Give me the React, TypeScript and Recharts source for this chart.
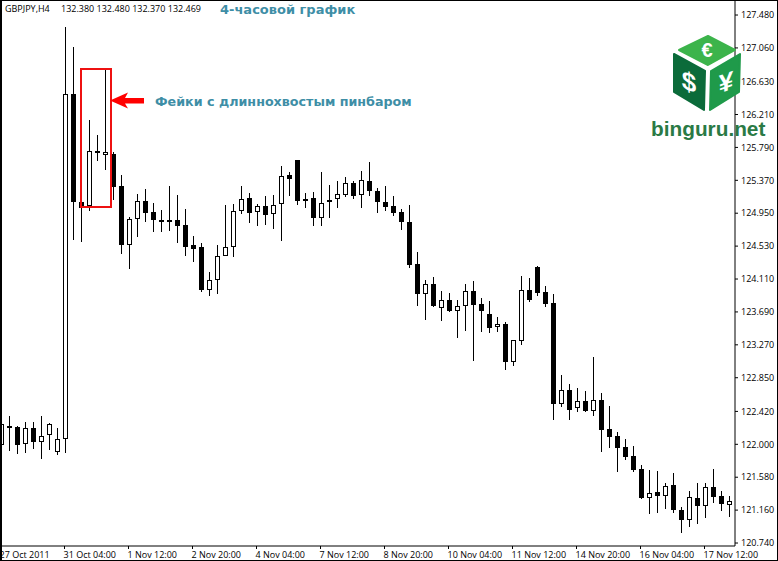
import React from "react";
import { Bar, ComposedChart, XAxis, YAxis } from "recharts";

const SANS = "'Liberation Sans', sans-serif";
const LABEL_FONT = "'Open Sans', sans-serif";

const opens = [
  121.992, 122.234, 122.221, 122.0, 122.205, 122.034, 122.115, 121.906, 122.064, 126.468, 125.093, 125.042,
  125.744, 125.689, 125.706, 125.297, 124.548, 124.872, 125.102, 124.961, 124.863, 124.863, 124.863, 124.799,
  124.54, 124.518, 123.973, 124.093, 124.4, 124.515, 124.974, 125.14, 124.961, 125.038, 124.936, 125.064,
  125.438, 125.629, 125.102, 125.14, 124.893, 125.089, 125.127, 125.178, 125.332, 125.178, 125.357, 125.23,
  125.089, 125.042, 124.961, 124.834, 124.298, 123.923, 124.042, 123.744, 123.838, 123.705, 123.762, 123.953,
  123.787, 123.66, 123.501, 123.532, 123.054, 123.322, 123.966, 124.259, 123.94, 123.8, 122.518, 122.689,
  122.46, 122.549, 122.429, 122.562, 122.191, 122.102, 121.962, 121.847, 121.681, 121.318, 121.387, 121.336,
  121.477, 121.157, 121.03, 121.31, 121.216, 121.451, 121.336, 121.229,
];
const highs = [
  122.515, 122.362, 122.234, 122.285, 122.285, 122.362, 122.269, 122.209, 127.323, 127.072, 125.118, 126.14,
  125.948, 126.791, 125.727, 125.438, 124.902, 125.195, 125.259, 125.08, 124.991, 125.297, 125.182, 125.004,
  124.655, 124.57, 124.199, 124.544, 125.055, 125.067, 125.297, 125.208, 125.067, 125.17, 125.182, 125.553,
  125.476, 125.629, 125.208, 125.221, 125.476, 125.31, 125.361, 125.412, 125.357, 125.489, 125.604, 125.268,
  125.297, 125.17, 124.999, 125.055, 124.455, 124.093, 124.136, 123.957, 123.931, 123.842, 124.046, 124.084,
  123.867, 123.829, 123.625, 123.561, 123.335, 124.148, 124.123, 124.276, 124.021, 123.919, 122.884, 122.766,
  122.715, 122.676, 123.11, 122.651, 122.489, 122.153, 122.064, 121.974, 121.736, 121.672, 121.659, 121.502,
  121.63, 121.196, 121.4, 121.502, 121.502, 121.681, 121.4, 121.336,
];
const lows = [
  121.979, 121.915, 121.877, 121.887, 121.944, 121.817, 121.927, 121.864, 121.887, 124.611, 124.586, 124.982,
  125.62, 125.501, 125.118, 124.433, 124.241, 124.65, 124.841, 124.714, 124.714, 124.727, 124.573, 124.407,
  124.331, 123.948, 123.897, 123.922, 124.4, 124.395, 124.944, 124.829, 124.79, 124.803, 124.752, 124.599,
  125.173, 125.059, 125.02, 124.79, 124.79, 124.893, 125.02, 125.161, 125.131, 125.02, 125.173, 124.956,
  124.982, 124.918, 124.739, 124.254, 123.769, 123.587, 123.756, 123.578, 123.689, 123.361, 123.45, 123.067,
  123.437, 123.425, 123.437, 122.952, 123.003, 123.268, 123.82, 123.897, 123.756, 122.314, 122.48, 122.314,
  122.416, 122.416, 122.365, 121.906, 121.957, 121.65, 121.803, 121.65, 121.306, 121.114, 121.127, 121.178,
  121.127, 120.871, 120.948, 120.986, 121.063, 121.254, 121.152, 121.076,
];
const closes = [
  122.256, 122.209, 121.995, 122.205, 122.034, 122.103, 122.256, 122.064, 126.468, 125.096, 125.012, 125.74,
  125.725, 125.727, 125.288, 124.548, 124.872, 125.102, 124.956, 124.867, 124.844, 124.844, 124.79, 124.522,
  124.497, 123.973, 124.093, 124.4, 124.515, 124.974, 125.127, 124.956, 125.038, 124.931, 125.051, 125.421,
  125.39, 125.109, 125.127, 124.893, 125.076, 125.115, 125.191, 125.332, 125.173, 125.37, 125.237, 125.097,
  125.033, 124.956, 124.841, 124.293, 123.923, 124.042, 123.769, 123.838, 123.705, 123.762, 123.953, 123.782,
  123.705, 123.488, 123.532, 123.054, 123.335, 123.966, 123.846, 123.935, 123.795, 122.518, 122.689, 122.442,
  122.549, 122.429, 122.562, 122.186, 122.097, 121.957, 121.842, 121.676, 121.318, 121.374, 121.344, 121.464,
  121.165, 121.038, 121.323, 121.216, 121.451, 121.331, 121.242, 121.272,
];

const priceTicks = [
  127.48, 127.06, 126.63, 126.21, 125.79, 125.37, 124.95, 124.53, 124.11, 123.69, 123.27, 122.85, 122.42, 122.0,
  121.58, 121.16, 120.74,
];
const dateLabels = [
  "27 Oct 2011", "31 Oct 04:00", "1 Nov 12:00", "2 Nov 20:00", "4 Nov 04:00", "7 Nov 12:00",
  "8 Nov 20:00", "10 Nov 04:00", "11 Nov 12:00", "14 Nov 20:00", "16 Nov 04:00", "17 Nov 12:00",
];

const data = opens.map((open, i) => ({
  idx: i,
  open,
  high: highs[i],
  low: lows[i],
  close: closes[i],
  range: [lows[i], highs[i]],
}));

function Candle({ x, y, width, height, payload }: any) {
  const { open, high, low, close } = payload;
  const toY = (v: number) => y + ((high - v) / (high - low)) * height;
  const cx = Math.floor(x + width / 2) + 0.5;
  const top = Math.round(toY(Math.max(open, close)));
  const bottom = Math.round(toY(Math.min(open, close)));
  const isUp = close > open;
  return (
    <g shapeRendering="crispEdges">
      <line x1={cx} x2={cx} y1={Math.round(y)} y2={Math.round(y + height)} stroke="#000" />
      {isUp ? (
        <rect x={cx - 2} y={top + 0.5} width={4} height={Math.max(bottom - top - 1, 1)} fill="#fff" stroke="#000" />
      ) : (
        <rect x={cx - 2.5} y={top} width={5} height={Math.max(bottom - top, 2)} fill="#000" />
      )}
    </g>
  );
}

function DateTick({ x, y, payload }: any) {
  const label = dateLabels[payload.value / 8];
  const tx = Math.floor(x) + 0.5;
  return (
    <g>
      <line x1={tx} x2={tx} y1={y - 8} y2={y - 5} stroke="#000" shapeRendering="crispEdges" />
      <text x={tx - 1} y={y + 4} fontSize={9} fontFamily={LABEL_FONT} fill="#000" textAnchor="start">
        {label}
      </text>
    </g>
  );
}

function Logo() {
  return (
    <g>
      <polygon points="708,36 735,50 708,65 679,50" fill="#3cb44b" stroke="#3cb44b" strokeLinejoin="round" strokeWidth={2} />
      <polygon points="674,54 705,71 704,110 674,92" fill="#0b6b3a" stroke="#0b6b3a" strokeLinejoin="round" strokeWidth={2} />
      <polygon points="740,54 711,71 710,110 739,92" fill="#1f9a4a" stroke="#1f9a4a" strokeLinejoin="round" strokeWidth={2} />
      <text x={707} y={57} fontSize={20} fontWeight="bold" fontFamily={SANS} fill="#fff" textAnchor="middle">
        €
      </text>
      <text transform="translate(689,91) skewY(20)" fontSize={26} fontWeight="bold" fontFamily={SANS} fill="#fff" textAnchor="middle">
        $
      </text>
      <text transform="translate(726,91) skewY(-20)" fontSize={26} fontWeight="bold" fontFamily={SANS} fill="#fff" textAnchor="middle">
        ¥
      </text>
      <text x={651} y={136} fontSize={20.8} fontWeight="bold" fontFamily={SANS} fill="#2a7a45">
        binguru.net
      </text>
    </g>
  );
}

export default function App() {
  return (
    <div style={{ position: "absolute", left: 0, top: 0, width: 778, height: 561, background: "#fff" }}>
      <ComposedChart
        width={778}
        height={561}
        data={data}
        margin={{ top: 1, right: 0, bottom: 0, left: -3.5 }}
      >
        <XAxis
          dataKey="idx"
          interval={7}
          padding={{ left: 0, right: 2.5 }}
          height={15}
          axisLine={{ stroke: "#000" }}
          tickLine={false}
          tick={<DateTick />}
        />
        <YAxis
          orientation="right"
          type="number"
          domain={[120.702, 127.659]}
          ticks={priceTicks}
          interval={0}
          width={43}
          axisLine={{ stroke: "#000" }}
          tickLine={{ stroke: "#000" }}
          tickSize={3}
          tickMargin={3}
          tickFormatter={(v: number) => v.toFixed(3)}
          tick={{ fontSize: 9, fontFamily: LABEL_FONT, fill: "#000", textAnchor: "start" }}
        />
        <Bar dataKey="range" barSize={5} isAnimationActive={false} shape={<Candle />} />
      </ComposedChart>
      <svg width={778} height={561} style={{ position: "absolute", left: 0, top: 0, pointerEvents: "none" }}>
        <rect x={0.5} y={0.5} width={777} height={560} fill="none" stroke="#000" shapeRendering="crispEdges" />
        <line x1={1} x2={1} y1={0} y2={561} stroke="#000" strokeWidth={1} shapeRendering="crispEdges" />
        <text x={5} y={12} fontSize={9} fontFamily={LABEL_FONT} fill="#000">
          GBPJPY,H4
        </text>
        <text x={61} y={12} fontSize={9} fontFamily={LABEL_FONT} fill="#000">
          132.380 132.480 132.370 132.469
        </text>
        <text x={220} y={14} fontSize={13} fontWeight="bold" fontFamily="'DejaVu Sans'" fill="#3e8ea6">
          4-часовой график
        </text>
        <text x={155} y={106} fontSize={12.7} fontWeight="bold" fontFamily="'DejaVu Sans'" fill="#3e8ea6">
          Фейки с длиннохвостым пинбаром
        </text>
        <rect x={81} y={69} width={30} height={138} fill="none" stroke="#ee1111" strokeWidth={2} />
        <polygon points="110,100.5 128,92.5 125,98 144,98 144,103.5 125,103.5 128,108.5" fill="#f00" />
        <Logo />
      </svg>
    </div>
  );
}
